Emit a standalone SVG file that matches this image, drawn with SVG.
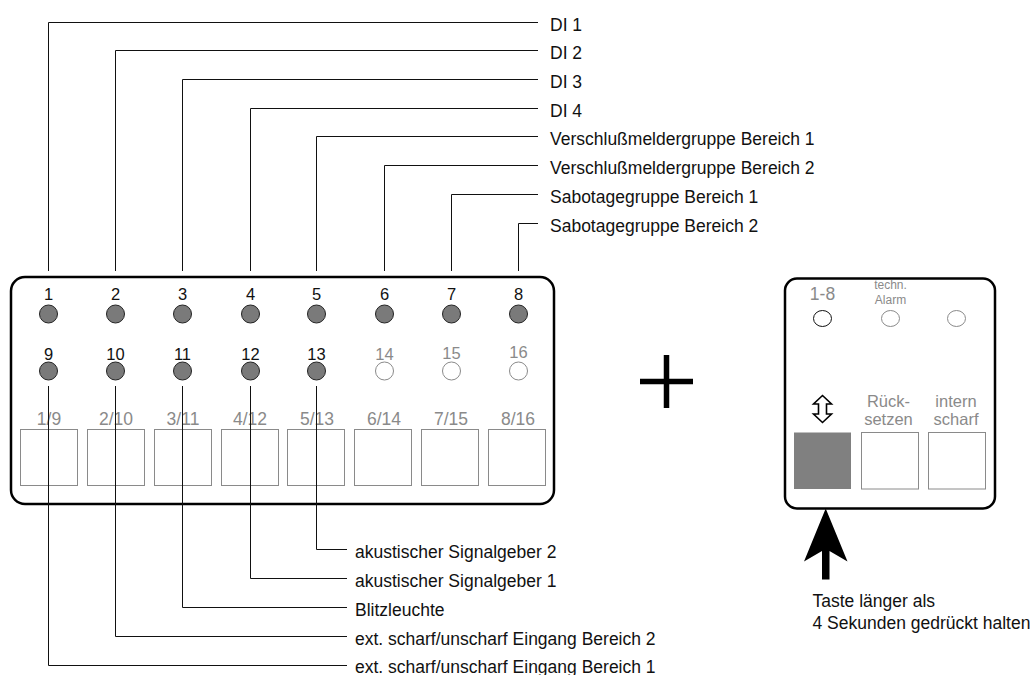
<svg xmlns="http://www.w3.org/2000/svg" width="1034" height="675" viewBox="0 0 1034 675">
<style>
text{font-family:"Liberation Sans",Arial,sans-serif;fill:#111}
.lbl{font-size:17.5px}
.num{font-size:16.5px;text-anchor:middle}
.g{fill:#8a8a8a}
.btnl{font-size:17.5px;text-anchor:middle;fill:#8a8a8a}
.two{font-size:16.5px}
.wire{fill:none;stroke:#111;stroke-width:1}
.led{fill:#7a7a7a;stroke:#222;stroke-width:1}
.ledo{fill:#fff;stroke:#8a8a8a;stroke-width:1}
.btn{fill:#fff;stroke:#8a8a8a;stroke-width:1}
.panel{fill:none;stroke:#000;stroke-width:2.5}
</style>
<g id="connectors">
<path class="wire" d="M48.5 271V22.5H538"/>
<path class="wire" d="M115.5 271V50.5H538"/>
<path class="wire" d="M182.5 271V79.5H538"/>
<path class="wire" d="M250.5 271V108.5H538"/>
<path class="wire" d="M316.5 271V136.5H538"/>
<path class="wire" d="M384.5 271V165.5H538"/>
<path class="wire" d="M451.5 271V194.5H538"/>
<path class="wire" d="M518.5 271V223.5H538"/>
</g>
<g id="labels-top" class="lbl">
<text x="550" y="30.5">DI 1</text>
<text x="550" y="58.5">DI 2</text>
<text x="550" y="87.5">DI 3</text>
<text x="550" y="116.5">DI 4</text>
<text x="550" y="144.5">Verschlußmeldergruppe Bereich 1</text>
<text x="550" y="173.5">Verschlußmeldergruppe Bereich 2</text>
<text x="550" y="202.5">Sabotagegruppe Bereich 1</text>
<text x="550" y="231.5">Sabotagegruppe Bereich 2</text>
</g>
<g id="panel-left">
<rect class="panel" x="11" y="277" width="543" height="227" rx="14"/>
<g id="leds-row1">
<text class="num" x="48.5" y="299.5">1</text><circle class="led" cx="48.5" cy="314" r="9"/>
<text class="num" x="115.5" y="299.5">2</text><circle class="led" cx="115.5" cy="314" r="9"/>
<text class="num" x="182.5" y="299.5">3</text><circle class="led" cx="182.5" cy="314" r="9"/>
<text class="num" x="250.5" y="299.5">4</text><circle class="led" cx="250.5" cy="314" r="9"/>
<text class="num" x="316.5" y="299.5">5</text><circle class="led" cx="316.5" cy="314" r="9"/>
<text class="num" x="384.5" y="299.5">6</text><circle class="led" cx="384.5" cy="314" r="9"/>
<text class="num" x="451.5" y="299.5">7</text><circle class="led" cx="451.5" cy="314" r="9"/>
<text class="num" x="518.5" y="299.5">8</text><circle class="led" cx="518.5" cy="314" r="9"/>
</g>
<g id="leds-row2">
<text class="num" x="48.5" y="360">9</text><circle class="led" cx="48.5" cy="371" r="9"/>
<text class="num" x="115.5" y="360">10</text><circle class="led" cx="115.5" cy="371" r="9"/>
<text class="num" x="182.5" y="360">11</text><circle class="led" cx="182.5" cy="371" r="9"/>
<text class="num" x="250.5" y="360">12</text><circle class="led" cx="250.5" cy="371" r="9"/>
<text class="num" x="316.5" y="360">13</text><circle class="led" cx="316.5" cy="371" r="9"/>
<text class="num g" x="384.5" y="360">14</text><circle class="ledo" cx="384.5" cy="371" r="9"/>
<text class="num g" x="451.5" y="359">15</text><circle class="ledo" cx="451.5" cy="371" r="9"/>
<text class="num g" x="518.5" y="358">16</text><circle class="ledo" cx="518.5" cy="371" r="9"/>
</g>
<g id="buttons-left">
<text class="btnl" x="49" y="425">1/9</text><rect class="btn" x="20.5" y="429.5" width="57" height="56"/>
<text class="btnl" x="116" y="425">2/10</text><rect class="btn" x="87.5" y="429.5" width="57" height="56"/>
<text class="btnl" x="183" y="425">3/11</text><rect class="btn" x="154.5" y="429.5" width="57" height="56"/>
<text class="btnl" x="250" y="425">4/12</text><rect class="btn" x="221.5" y="429.5" width="57" height="56"/>
<text class="btnl" x="317" y="425">5/13</text><rect class="btn" x="287.5" y="429.5" width="57" height="56"/>
<text class="btnl" x="384" y="425">6/14</text><rect class="btn" x="354.5" y="429.5" width="57" height="56"/>
<text class="btnl" x="451" y="425">7/15</text><rect class="btn" x="421.5" y="429.5" width="57" height="56"/>
<text class="btnl" x="518" y="425">8/16</text><rect class="btn" x="488.5" y="429.5" width="57" height="56"/>
</g>
</g>
<g id="connectors-bottom">
<path class="wire" d="M316.5 386V549.5H347"/>
<path class="wire" d="M250.5 386V578.5H347"/>
<path class="wire" d="M182.5 386V607.5H347"/>
<path class="wire" d="M115.5 386V636.5H347"/>
<path class="wire" d="M48.5 386V665.5H347"/>
</g>
<g id="labels-bottom" class="lbl">
<text x="355" y="557.5">akustischer Signalgeber 2</text>
<text x="355" y="586.5">akustischer Signalgeber 1</text>
<text x="355" y="615.5">Blitzleuchte</text>
<text x="355" y="644.5">ext. scharf/unscharf Eingang Bereich 2</text>
<text x="355" y="673">ext. scharf/unscharf Eingang Bereich 1</text>
</g>
<g id="plus">
<path d="M640 381.5H693M666.5 355V408" stroke="#000" stroke-width="5.5" fill="none"/>
</g>
<g id="panel-right">
<rect class="panel" x="785" y="278.5" width="210" height="230" rx="12" stroke-width="2"/>
<text class="btnl" x="822.5" y="299.5">1-8</text>
<text class="btnl" x="890.5" y="289" style="font-size:12px">techn.</text>
<text class="btnl" x="890.5" y="303.5" style="font-size:12px">Alarm</text>
<ellipse cx="822.5" cy="318.5" rx="9" ry="8" fill="#fff" stroke="#111"/>
<ellipse cx="890.5" cy="318.5" rx="9" ry="8" class="ledo"/>
<ellipse cx="956.5" cy="318.5" rx="9" ry="8" class="ledo"/>
<polygon points="822.5,395.5 831.5,404 826.5,404 826.5,414 831.5,414 822.5,422.5 813.5,414 818.5,414 818.5,404 813.5,404" fill="#fff" stroke="#000" stroke-width="1.6" stroke-linejoin="miter"/>
<text class="btnl two" x="888.5" y="406.5">Rück-</text>
<text class="btnl two" x="888.5" y="425">setzen</text>
<text class="btnl two" x="956" y="406.5">intern</text>
<text class="btnl two" x="956" y="425">scharf</text>
<rect x="794" y="432.5" width="57" height="56.5" fill="#808080"/>
<rect class="btn" x="861.5" y="432.5" width="57" height="56.5"/>
<rect class="btn" x="928.5" y="432.5" width="57" height="56.5"/>
</g>
<g id="hint">
<polygon points="825.7,508.5 847.5,561.5 829.5,551 829.5,579.5 822,579.5 822,551 804,561.5" fill="#000"/>
<text class="lbl" x="812.5" y="606.5">Taste länger als</text>
<text class="lbl" x="812.5" y="628.5">4 Sekunden gedrückt halten</text>
</g>
</svg>
